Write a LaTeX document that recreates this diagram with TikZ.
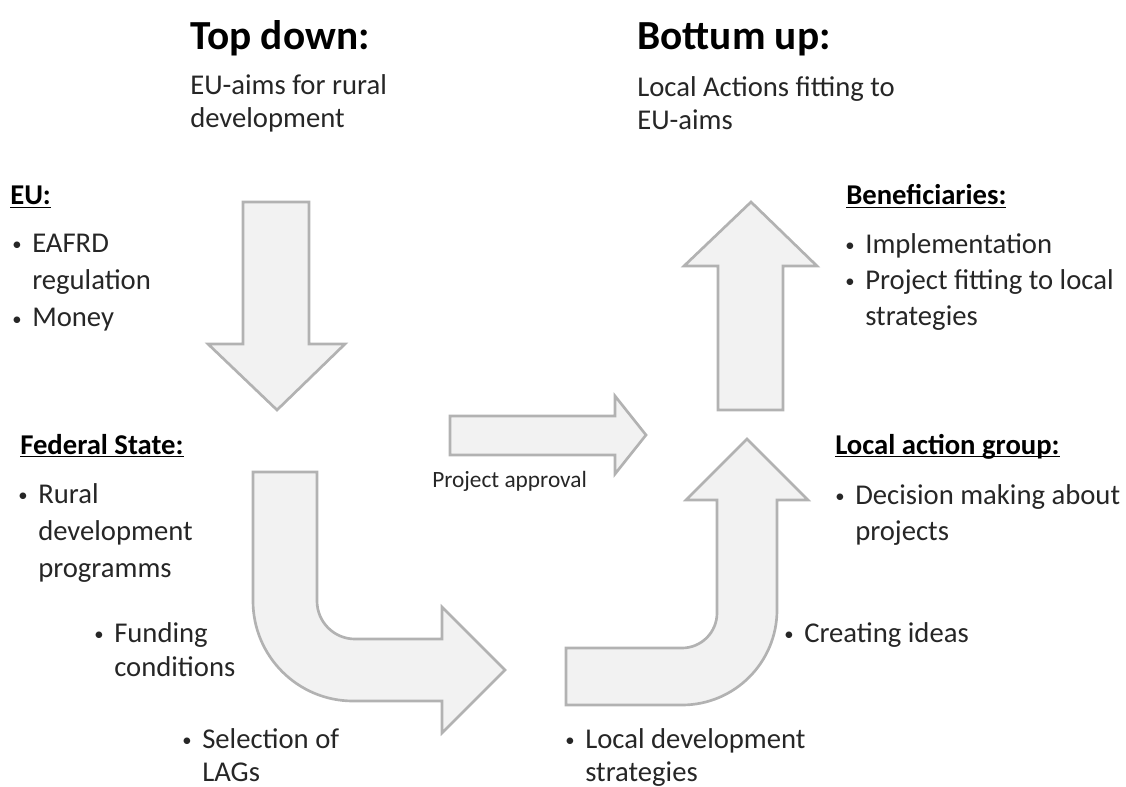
\documentclass[tikz,border=0pt]{standalone}
\usepackage{fontspec}
\setmainfont{Carlito}
\newcommand{\bul}{\makebox[15pt][l]{\raisebox{1.5pt}{\fontsize{14}{14}\selectfont\textbullet}}}
\newcommand{\ind}{\hspace*{15pt}}
\newcommand{\ulhead}[1]{\underline{\smash{\textbf{#1}}}}

\begin{document}
\begin{tikzpicture}[
    x=0.75pt, y=-0.75pt,
    blockarrow/.style={draw=black!30, fill=black!5, line width=2pt, line join=miter},
    title/.style={anchor=base west, inner sep=0pt, font=\fontsize{31}{37}\selectfont\bfseries},
    body/.style={anchor=base west, inner sep=0pt, align=left, text=black!85, font=\fontsize{21.5}{#1}\selectfont},
    body/.default=27,
    group/.style={anchor=base west, inner sep=0pt, text=black, font=\fontsize{21.5}{27}\selectfont},
    small/.style={anchor=base west, inner sep=0pt, text=black!85, font=\fontsize{17.5}{21}\selectfont}
]
\useasboundingbox (0,0) rectangle (1126,787);

% 箭头
\draw[blockarrow] (243,202) -- (309,202) -- (309,344) -- (345,344) -- (277,410) -- (208,344) -- (243,344) -- cycle;
\draw[blockarrow] (718,410) -- (718,266) -- (684,266) -- (751,202) -- (817,266) -- (783,266) -- (783,410) -- cycle;
\draw[blockarrow] (450,416) -- (615,416) -- (615,396) -- (646,435) -- (615,474) -- (615,455) -- (450,455) -- cycle;
\draw[blockarrow] (253,472) -- (317,472) -- (317,601) arc[start angle=180, end angle=90, radius=38]
    -- (442,639) -- (442,607) -- (505,670) -- (442,733) -- (442,701) -- (353,701)
    arc[start angle=90, end angle=180, radius=100] -- cycle;
\draw[blockarrow] (566,648) -- (682,648) arc[start angle=90, end angle=0, radius=35]
    -- (717,500) -- (686,500) -- (747,439) -- (808,500) -- (777,500) -- (777,610)
    arc[start angle=0, end angle=90, radius=95] -- (566,705) -- cycle;

% 标题 (多行节点: 坐标 = 最后一行基线)
\node[title] (topdown) at (190,50) {Top down:};
\node[body=24.75pt] (topdown-text) at (190,128) {EU-aims for rural\\development};
\node[title] (bottomup) at (637,50) {Bottum up:};
\node[body=24.75pt] (bottomup-text) at (637,130) {Local Actions fitting to\\EU-aims};

% 左侧
\node[group] (eu) at (10,205) {\ulhead{EU:}};
\node[body=27.75pt] (eu-list) at (12,327) {\bul EAFRD\\\ind regulation\\\bul Money};
\node[group] (state) at (20,454) {\ulhead{Federal State:}};
\node[body=27.75pt] (state-list) at (18,577) {\bul Rural\\\ind development\\\ind programms};
\node[body=25.5pt] (funding) at (94,676) {\bul Funding\\\ind conditions};
\node[body=24.75pt] (selection) at (182,781) {\bul Selection of\\\ind LAGs};

% 中间
\node[small] (approval) at (432,487) {Project approval};
\node[body=24.75pt] (strategies) at (565,781) {\bul Local development\\\ind strategies};
\node[body] (ideas) at (784,642) {\bul Creating ideas};

% 右侧
\node[group] (benef) at (846,205) {\ulhead{Beneficiaries:}};
\node[body=27pt] (benef-list) at (845,326) {\bul Implementation\\\bul Project fitting to local\\\ind strategies};
\node[group] (lag) at (835,454) {\ulhead{Local action group:}};
\node[body=27pt] (lag-list) at (835,540) {\bul Decision making about\\\ind projects};
\end{tikzpicture}
\end{document}
